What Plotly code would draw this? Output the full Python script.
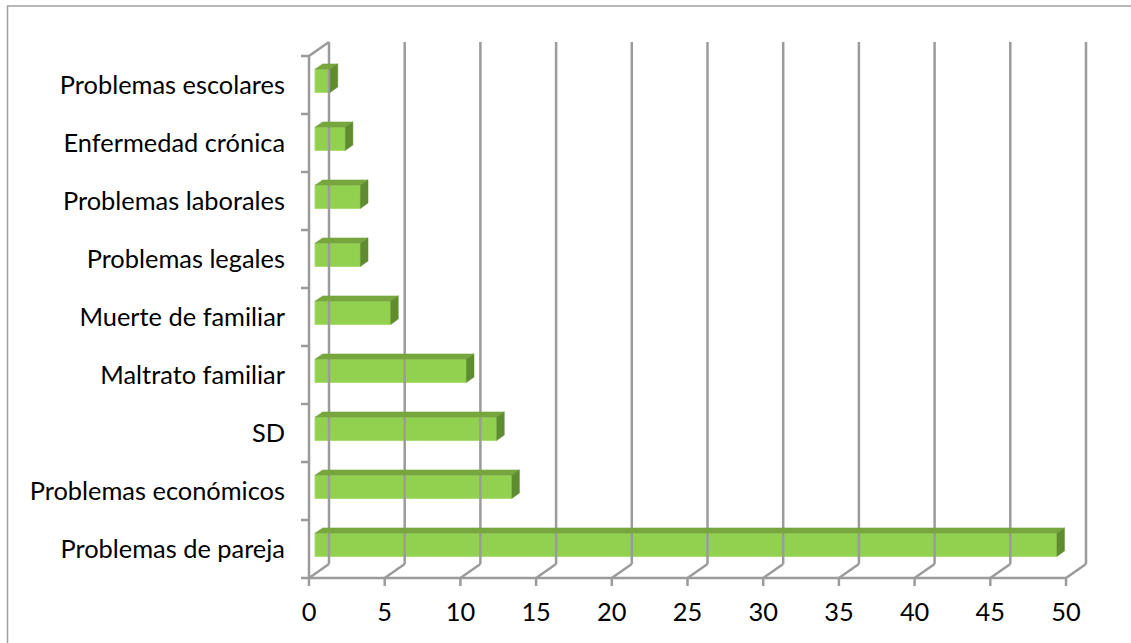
import plotly.graph_objects as go

# ---- data ----
categories = ["Problemas de pareja", "Problemas económicos", "SD", "Maltrato familiar",
              "Muerte de familiar", "Problemas legales", "Problemas laborales",
              "Enfermedad crónica", "Problemas escolares"]
values = [49, 13, 12, 10, 5, 3, 3, 2, 1]
x_ticks = [0, 5, 10, 15, 20, 25, 30, 35, 40, 45, 50]

# ---- geometry (pixels) ----
W, H = 1131, 643
L, R, T, B = 290, 1100, 35, 595
X0_PX, PX_PER_UNIT = 309, 15.14
Y0_PX, PX_PER_CAT = 578, 58
DX = 20 / PX_PER_UNIT      # full depth shift (data units)
DY = 14 / PX_PER_CAT       # full depth shift (category units)
F0, F1 = 0.3, 0.68         # bar depth start/end fraction
BAR_H = 0.4

xr = [(L - X0_PX) / PX_PER_UNIT, (R - X0_PX) / PX_PER_UNIT]
yr = [(Y0_PX - B) / PX_PER_CAT - 0.5, (Y0_PX - T) / PX_PER_CAT - 0.5]

n = len(categories)
ypos = list(range(n))
GRID = "#9b9b9b"
GW = 2.5

fig = go.Figure()

def seg_trace(xs, ys, color=GRID, width=GW):
    fig.add_trace(go.Scatter(x=xs, y=ys, mode="lines", line=dict(color=color, width=width),
                             hoverinfo="skip", showlegend=False))

ybot, ytop = -0.5, n - 0.5
# back wall verticals + floor diagonals
xs, ys = [], []
for t in x_ticks:
    xs += [t + DX, t + DX, None, t, t + DX, None]
    ys += [ybot + DY, ytop + DY, None, ybot, ybot + DY, None]
seg_trace(xs, ys)
# front axis, left line, top diagonal
seg_trace([x_ticks[-1], 0, 0, DX], [ybot, ybot, ytop, ytop + DY])
# category tick marks
tk = 8 / PX_PER_UNIT
xs, ys = [], []
for k in range(n + 1):
    b = k - 0.5
    xs += [-tk, 0, None]
    ys += [b, b, None]
# x tick marks
tky = 8 / PX_PER_CAT
for t in x_ticks:
    xs += [t, t, None]
    ys += [ybot, ybot - tky, None]
seg_trace(xs, ys)

# bars: front face
fig.add_trace(go.Bar(
    x=values, y=[c + F0 * DY for c in ypos], base=[F0 * DX] * n,
    orientation="h", width=BAR_H,
    marker=dict(color="#92D050", line=dict(color="#a6dc6a", width=1)),
    hoverinfo="skip", showlegend=False))

# top faces and side faces
tx, ty, sx, sy = [], [], [], []
for c, v in zip(ypos, values):
    yb = c + F0 * DY - BAR_H / 2
    yt = c + F0 * DY + BAR_H / 2
    x0 = F0 * DX
    x1 = v + F0 * DX
    d_x = (F1 - F0) * DX
    d_y = (F1 - F0) * DY
    tx += [x0, x1, x1 + d_x, x0 + d_x, x0, None]
    ty += [yt, yt, yt + d_y, yt + d_y, yt, None]
    sx += [x1, x1 + d_x, x1 + d_x, x1, x1, None]
    sy += [yb, yb + d_y, yt + d_y, yt, yb, None]
fig.add_trace(go.Scatter(x=tx, y=ty, mode="lines", fill="toself", fillcolor="#77a63f",
                         line=dict(color="#77a63f", width=0.5), hoverinfo="skip", showlegend=False))
fig.add_trace(go.Scatter(x=sx, y=sy, mode="lines", fill="toself", fillcolor="#5f8c2f",
                         line=dict(color="#5f8c2f", width=0.5), hoverinfo="skip", showlegend=False))

font = dict(family="Lato, Carlito, sans-serif", size=25.4, color="#000000")
fig.update_layout(
    width=W, height=H,
    margin=dict(l=L, r=W - R, t=T, b=H - B),
    paper_bgcolor="white", plot_bgcolor="white",
    font=font,
    xaxis=dict(range=xr, showgrid=False, zeroline=False, showline=False,
               tickmode="array", tickvals=x_ticks, ticktext=[str(t) for t in x_ticks],
               ticks="", tickfont=font),
    yaxis=dict(range=yr, showgrid=False, zeroline=False, showline=False,
               tickmode="array", tickvals=ypos, ticktext=categories,
               ticks="", tickfont=font, ticklabelstandoff=4),
    shapes=[
        dict(type="line", xref="paper", yref="paper",
             x0=(7.5 - L) / (R - L), x1=(7.5 - L) / (R - L),
             y0=(B - 6) / (B - T), y1=(B - H) / (B - T),
             line=dict(color="#a0a0a0", width=1.5)),
        dict(type="line", xref="paper", yref="paper",
             x0=(7 - L) / (R - L), x1=(W - L) / (R - L),
             y0=(B - 6) / (B - T), y1=(B - 6) / (B - T),
             line=dict(color="#a0a0a0", width=1.5)),
    ],
)

fig.write_html("out.html")
